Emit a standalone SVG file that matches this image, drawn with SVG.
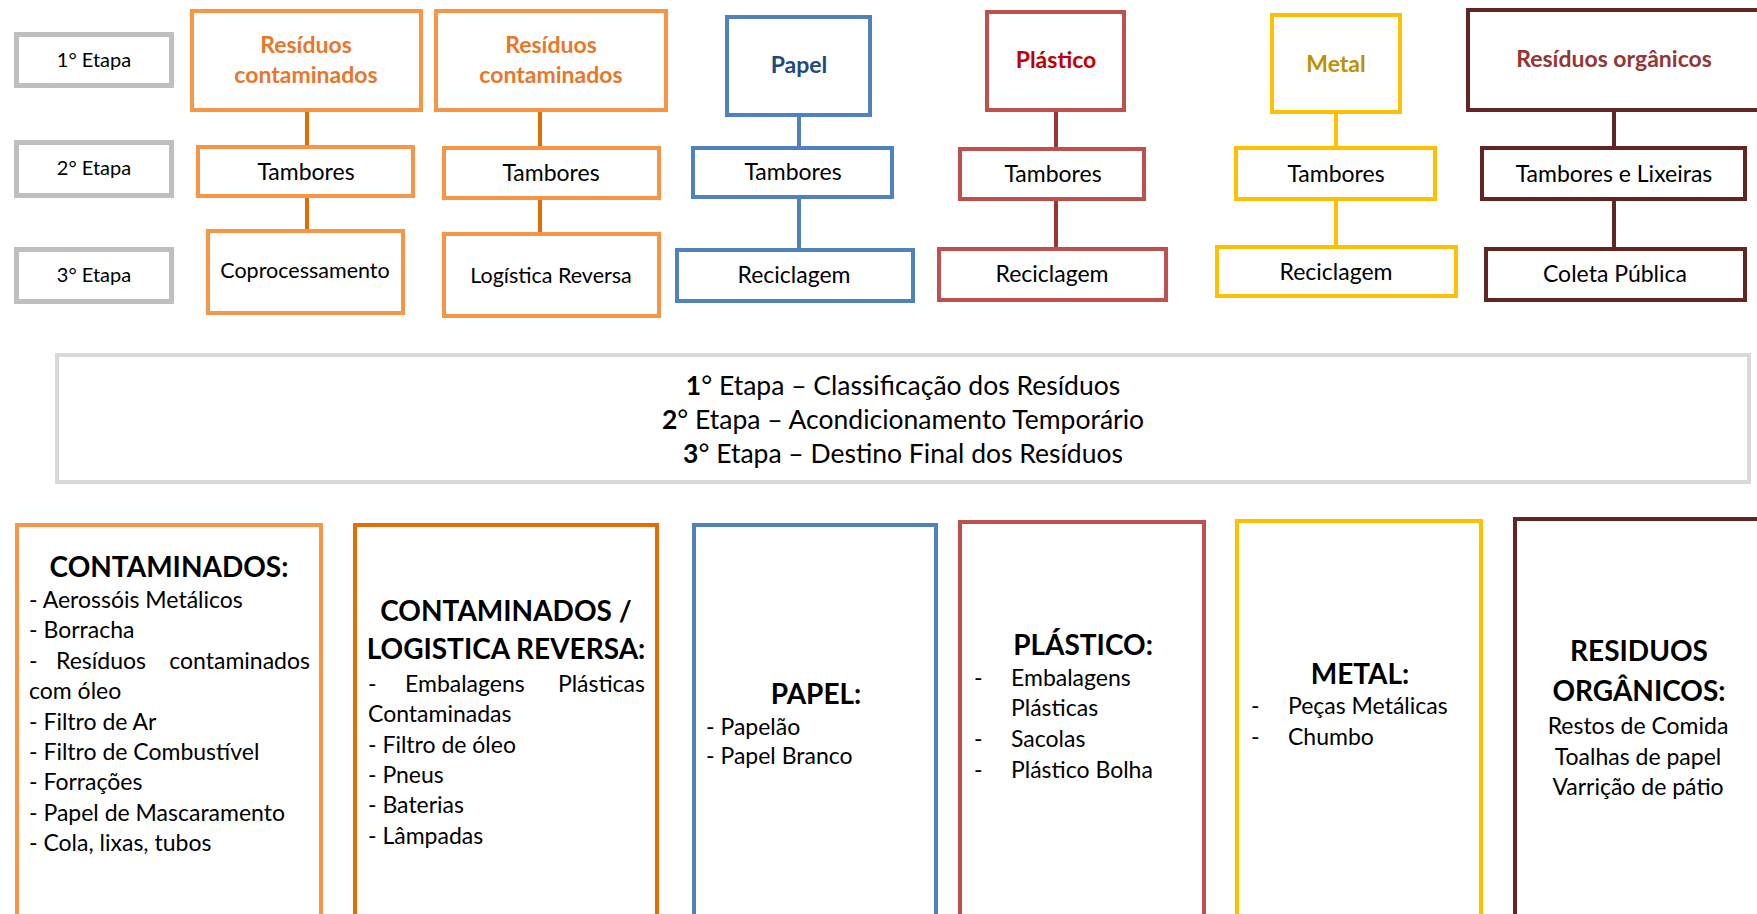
<svg xmlns="http://www.w3.org/2000/svg" width="1757" height="914" viewBox="0 0 1757 914">
<style>
text{font-family:Lato,"Liberation Sans",sans-serif;fill:#000}
.box{fill:#fff}
.gray{stroke:#bfbfbf;stroke-width:5}
.o1{stroke:#f79646;stroke-width:4}
.o2{stroke:#e36c09;stroke-width:4}
.bl{stroke:#4f81bd;stroke-width:4}
.rd{stroke:#c0504d;stroke-width:4}
.yl{stroke:#ffc000;stroke-width:4}
.br{stroke:#632523;stroke-width:4}
.et{font-size:20px;text-anchor:middle}
.nt{font-size:23px;text-anchor:middle}
.tt{font-size:23px;font-weight:bold;text-anchor:middle}
.mid{font-size:26.5px;text-anchor:middle}
.hd{font-size:28px;font-weight:bold;text-anchor:middle}
.it{font-size:23px}
.c{stroke-width:4;fill:none}
</style>
<rect width="1757" height="914" fill="#fff"/>
<g id="connectors">
<path class="c" stroke="#e36c09" d="M307 112V145M307 198V229"/>
<path class="c" stroke="#e36c09" d="M540 112V146M540 200V232"/>
<path class="c" stroke="#4f81bd" d="M799 117V146M799 199V248"/>
<path class="c" stroke="#953735" d="M1056 112V147M1056 201V247"/>
<path class="c" stroke="#ffc000" d="M1336 114V146M1336 201V245"/>
<path class="c" stroke="#632523" d="M1614 112V146M1614 201V247"/>
</g>
<g id="etapa1"><rect class="box gray" x="16.5" y="34.5" width="155" height="51"/><text class="et" x="94" y="67">1° Etapa</text></g>
<g id="etapa2"><rect class="box gray" x="16.5" y="142.5" width="155" height="53"/><text class="et" x="94" y="175">2° Etapa</text></g>
<g id="etapa3"><rect class="box gray" x="16.5" y="249.5" width="155" height="52"/><text class="et" x="94" y="282">3° Etapa</text></g>

<g id="rc1"><rect class="box o1" x="192" y="11" width="229" height="99"/><text class="tt" x="306" y="53" style="fill:#e8772a">Resíduos</text><text class="tt" x="306" y="83" style="fill:#e8772a">contaminados</text></g>
<g id="tamb1"><rect class="box o1" x="198" y="147" width="215" height="49"/><text class="nt" x="306" y="180">Tambores</text></g>
<g id="copro"><rect class="box o1" x="208" y="231" width="195" height="82"/><text class="nt" x="305" y="278" style="font-size:21.5px">Coprocessamento</text></g>

<g id="rc2"><rect class="box o1" x="436" y="11" width="230" height="99"/><text class="tt" x="551" y="53" style="fill:#e8772a">Resíduos</text><text class="tt" x="551" y="83" style="fill:#e8772a">contaminados</text></g>
<g id="tamb2"><rect class="box o1" x="444" y="148" width="215" height="50"/><text class="nt" x="551" y="181">Tambores</text></g>
<g id="logrev"><rect class="box o1" x="444" y="234" width="215" height="82"/><text class="nt" x="551" y="283" style="font-size:21.5px">Logística Reversa</text></g>

<g id="papel"><rect class="box bl" x="727" y="17" width="143" height="98"/><text class="tt" x="799" y="73" style="fill:#1f497d">Papel</text></g>
<g id="tamb3"><rect class="box bl" x="693" y="148" width="199" height="49"/><text class="nt" x="793" y="180">Tambores</text></g>
<g id="recic1"><rect class="box bl" x="677" y="250" width="236" height="51"/><text class="nt" x="794" y="283">Reciclagem</text></g>

<g id="plastico"><rect class="box rd" x="987" y="12" width="137" height="98"/><text class="tt" x="1056" y="68" style="fill:#c00000">Plástico</text></g>
<g id="tamb4"><rect class="box rd" x="960" y="149" width="184" height="50"/><text class="nt" x="1053" y="182">Tambores</text></g>
<g id="recic2"><rect class="box rd" x="939" y="249" width="227" height="51"/><text class="nt" x="1052" y="282">Reciclagem</text></g>

<g id="metal"><rect class="box yl" x="1272" y="15" width="128" height="97"/><text class="tt" x="1336" y="72" style="fill:#bf9000">Metal</text></g>
<g id="tamb5"><rect class="box yl" x="1236" y="148" width="199" height="51"/><text class="nt" x="1336" y="182">Tambores</text></g>
<g id="recic3"><rect class="box yl" x="1217" y="247" width="239" height="49"/><text class="nt" x="1336" y="280">Reciclagem</text></g>

<g id="organicos"><rect class="box br" x="1468" y="10" width="300" height="100"/><text class="tt" x="1614" y="67" style="fill:#943634">Resíduos orgânicos</text></g>
<g id="tamb6"><rect class="box br" x="1482" y="148" width="263" height="51"/><text class="nt" x="1614" y="182">Tambores e Lixeiras</text></g>
<g id="coleta"><rect class="box br" x="1486" y="249" width="259" height="51"/><text class="nt" x="1615" y="282">Coleta Pública</text></g>

<g id="legenda"><rect class="box" x="57" y="355" width="1692" height="127" stroke="#d9d9d9" stroke-width="4"/>
<text class="mid" x="903" y="395"><tspan font-weight="bold">1</tspan>° Etapa – Classificação dos Resíduos</text>
<text class="mid" x="903" y="429"><tspan font-weight="bold">2</tspan>° Etapa – Acondicionamento Temporário</text>
<text class="mid" x="903" y="463"><tspan font-weight="bold">3</tspan>° Etapa – Destino Final dos Resíduos</text>
</g>

<g id="det-contaminados"><rect class="box o1" x="17" y="525" width="304" height="410"/>
<text class="hd" x="169" y="577">CONTAMINADOS:</text>
<text class="it" x="29" y="608">- Aerossóis Metálicos</text>
<text class="it" x="29" y="638.4">- Borracha</text>
<text class="it" x="29" y="668.8">-</text><text class="it" x="56" y="668.8">Resíduos</text><text class="it" x="310" y="668.8" text-anchor="end">contaminados</text>
<text class="it" x="29" y="699.2">com óleo</text>
<text class="it" x="29" y="729.6">- Filtro de Ar</text>
<text class="it" x="29" y="760">- Filtro de Combustível</text>
<text class="it" x="29" y="790.4">- Forrações</text>
<text class="it" x="29" y="820.8">- Papel de Mascaramento</text>
<text class="it" x="29" y="851.2">- Cola, lixas, tubos</text>
</g>

<g id="det-logistica"><rect class="box o2" x="355" y="525" width="302" height="410"/>
<text class="hd" x="506" y="621">CONTAMINADOS /</text>
<text class="hd" x="506" y="659">LOGISTICA REVERSA:</text>
<text class="it" x="368" y="692">-</text><text class="it" x="405" y="692">Embalagens</text><text class="it" x="645" y="692" text-anchor="end">Plásticas</text>
<text class="it" x="368" y="722">Contaminadas</text>
<text class="it" x="368" y="753">- Filtro de óleo</text>
<text class="it" x="368" y="783">- Pneus</text>
<text class="it" x="368" y="813">- Baterias</text>
<text class="it" x="368" y="844">- Lâmpadas</text>
</g>

<g id="det-papel"><rect class="box bl" x="694" y="525" width="242" height="410"/>
<text class="hd" x="816" y="704">PAPEL:</text>
<text class="it" x="706" y="735">- Papelão</text>
<text class="it" x="706" y="764">- Papel Branco</text>
</g>

<g id="det-plastico"><rect class="box rd" x="960" y="522" width="244" height="410"/>
<text class="hd" x="1083" y="655">PLÁSTICO:</text>
<text class="it" x="974" y="686">-</text><text class="it" x="1011" y="686">Embalagens</text>
<text class="it" x="1011" y="716">Plásticas</text>
<text class="it" x="974" y="747">-</text><text class="it" x="1011" y="747">Sacolas</text>
<text class="it" x="974" y="778">-</text><text class="it" x="1011" y="778">Plástico Bolha</text>
</g>

<g id="det-metal"><rect class="box yl" x="1237" y="521" width="244" height="410"/>
<text class="hd" x="1360" y="684">METAL:</text>
<text class="it" x="1251" y="714">-</text><text class="it" x="1288" y="714">Peças Metálicas</text>
<text class="it" x="1251" y="745">-</text><text class="it" x="1288" y="745">Chumbo</text>
</g>

<g id="det-organicos"><rect class="box br" x="1515" y="519" width="260" height="410"/>
<text class="hd" x="1639" y="661">RESIDUOS</text>
<text class="hd" x="1639" y="701">ORGÂNICOS:</text>
<text class="it" x="1638" y="734" text-anchor="middle">Restos de Comida</text>
<text class="it" x="1638" y="765" text-anchor="middle">Toalhas de papel</text>
<text class="it" x="1638" y="795" text-anchor="middle">Varrição de pátio</text>
</g>
</svg>
